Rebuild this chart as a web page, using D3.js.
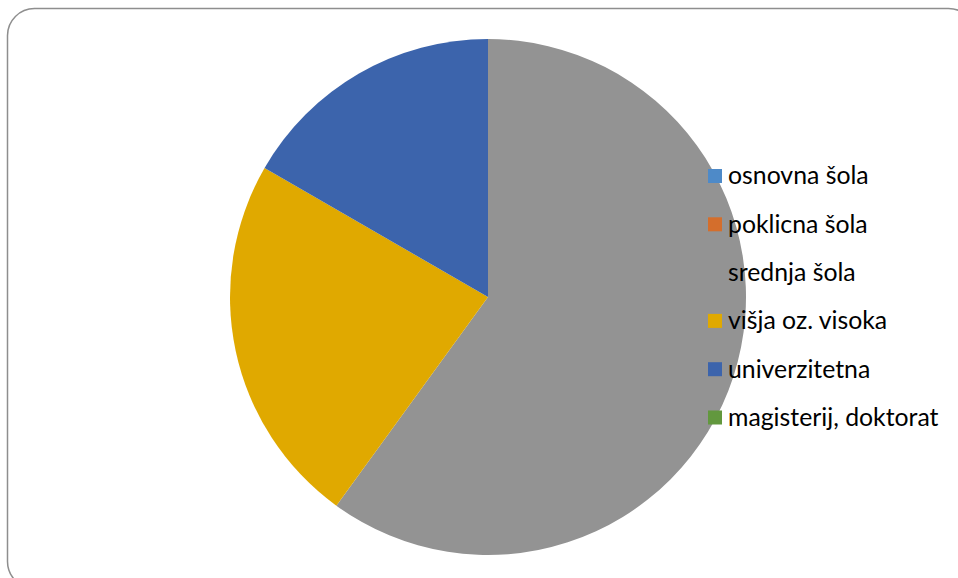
<!DOCTYPE html>
<html>
<head>
<meta charset="utf-8">
<script src="https://cdn.jsdelivr.net/npm/d3@7"></script>
<style>
  html, body { margin: 0; padding: 0; background: #fff; }
  svg { display: block; }
</style>
</head>
<body>
<svg id="chart" width="958" height="578"></svg>
<script>
// Education level categories and respondent counts
const categories = ["osnovna šola", "poklicna šola", "srednja šola", "višja oz. visoka", "univerzitetna", "magisterij, doktorat"];
const counts = [0, 0, 18, 7, 5, 0];
const colors = ["#4E8AC8", "#D46E2C", "#939393", "#E0A900", "#3C64AC", "#62983E"];

const svg = d3.select("#chart");

// Rounded frame around the chart area
svg.append("rect")
  .attr("x", 7.5).attr("y", 8.5)
  .attr("width", 968).attr("height", 580)
  .attr("rx", 27).attr("ry", 27)
  .attr("fill", "#fff")
  .attr("stroke", "#8e8e8e")
  .attr("stroke-width", 1.5);

const data = categories.map((c, i) => ({ name: c, value: counts[i], color: colors[i] }));

const cx = 488, cy = 297, r = 258;
const pie = d3.pie().value(d => d.value).sort(null);
const arc = d3.arc().innerRadius(0).outerRadius(r);

const g = svg.append("g").attr("transform", `translate(${cx},${cy})`);
g.selectAll("path")
  .data(pie(data))
  .join("path")
  .attr("d", arc)
  .attr("fill", d => d.data.color);

// Legend on the right, overlapping the pie
const legend = svg.append("g").attr("transform", "translate(708,0)");
const y = d3.scalePoint().domain(categories).range([176, 417.5]);
const items = legend.selectAll("g.item")
  .data(data)
  .join("g")
  .attr("class", "item")
  .attr("transform", d => `translate(0,${y(d.name)})`);
items.append("rect")
  .attr("x", 0).attr("y", -7)
  .attr("width", 14).attr("height", 14)
  .attr("fill", d => d.color);
items.append("text")
  .attr("x", 20).attr("y", 0).attr("dy", "0.34em")
  .attr("font-family", "Lato, 'Open Sans', sans-serif")
  .attr("font-size", 24.8)
  .attr("fill", "#000")
  .text(d => d.name);
</script>
</body>
</html>
